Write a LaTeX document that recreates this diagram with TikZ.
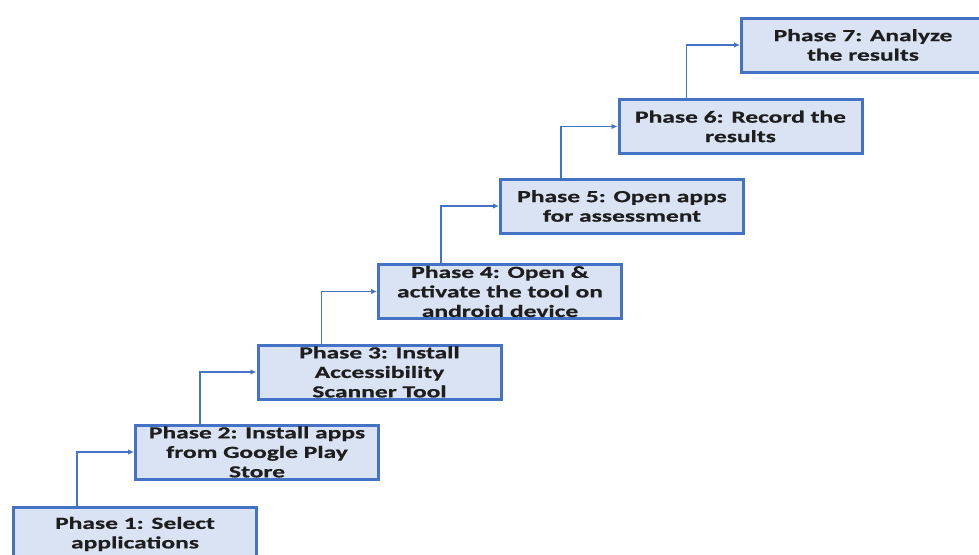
\documentclass[tikz,border=0pt]{standalone}
\usepackage{fontspec}
\setmainfont{Carlito}[FakeStretch=1.5]
\usetikzlibrary{arrows.meta}
\definecolor{phaseFill}{HTML}{DAE3F3}
\definecolor{phaseLine}{HTML}{4472C4}
\definecolor{phaseText}{HTML}{1E1E1E}
\tikzset{
  phase/.style={draw=phaseLine, fill=phaseFill, line width=3pt,
    minimum width=243pt, minimum height=54pt, inner sep=0pt,
    align=center, text=phaseText,
    font=\addfontfeatures{FakeBold=0.6}\fontsize{17pt}{19.5pt}\selectfont\bfseries},
  link/.style={draw=phaseLine, line width=1.8pt,
    -{Latex[length=6pt,width=5.5pt]}}
}
\begin{document}
\begin{tikzpicture}[x=1pt,y=-1pt]
\useasboundingbox (0,0) rectangle (979,554);
\begin{scope}
\clip (0,0) rectangle (979,554);
\node[phase] (p1) at (135,534) {Phase 1: Select\\applications};
\node[phase] (p2) at (257,452) {Phase 2: Install apps\\from Google Play\\Store};
\node[phase] (p3) at (379.5,372) {Phase 3: Install\\Accessibility\\Scanner Tool};
\node[phase] (p4) at (500,291.5) {Phase 4: Open \&\\activate the tool on\\android device};
\node[phase] (p5) at (622,206) {Phase 5: Open apps\\for assessment};
\node[phase] (p6) at (740.5,126.5) {Phase 6: Record the\\results};
\node[phase] (p7) at (863,45) {Phase 7: Analyze\\the results};
\draw[link] ([xshift=65pt]p1.north west) |- (p2.west);
\draw[link] ([xshift=66pt]p2.north west) |- (p3.west);
\draw[link] ([xshift=65pt]p3.north west) |- (p4.west);
\draw[link] ([xshift=64pt]p4.north west) |- (p5.west);
\draw[link] ([xshift=62pt]p5.north west) |- (p6.west);
\draw[link] ([xshift=69pt]p6.north west) |- (p7.west);
\end{scope}
\end{tikzpicture}
\end{document}
